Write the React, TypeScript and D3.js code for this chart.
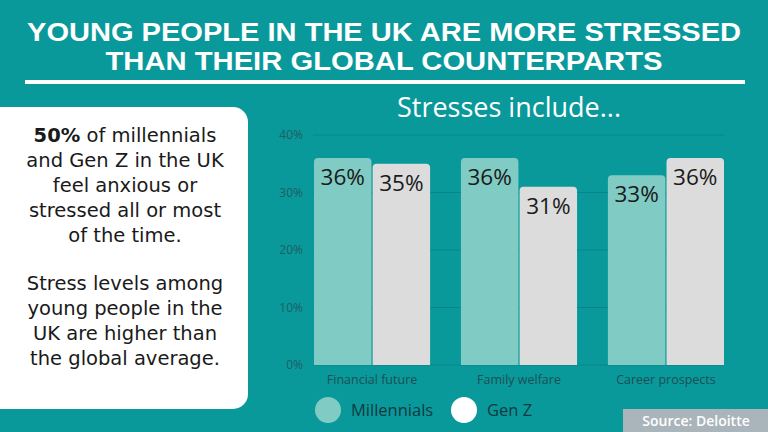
import React, { useEffect } from 'react';
import * as d3 from 'd3';

const categories = ['Financial future', 'Family welfare', 'Career prospects'];
const seriesNames = ['Millennials', 'Gen Z'];
const millennials = [36, 36, 33];
const genZ = [35, 31, 36];
const yTicks = [0, 10, 20, 30, 40];
const titleLines = ['YOUNG PEOPLE IN THE UK ARE MORE STRESSED', 'THAN THEIR GLOBAL COUNTERPARTS'];
const noteLines1 = ['of millennials', 'and Gen Z in the UK', 'feel anxious or', 'stressed all or most', 'of the time.'];
const noteLines2 = ['Stress levels among', 'young people in the', 'UK are higher than', 'the global average.'];

const W = 768;
const H = 432;
const TEAL = '#0a999b';
const colors = ['#80cbc3', '#dcdcdc'];

const App: React.FC = () => {
  useEffect(() => {
    document.body.style.margin = '0';
  }, []);

  const x0 = d3.scaleBand<string>().domain(categories).range([314, 724]).paddingInner(0.21).paddingOuter(0);
  const x1 = d3.scaleBand<string>().domain(seriesNames).range([0, x0.bandwidth()]).paddingInner(0.02);
  const y = d3.scaleLinear().domain([0, 40]).range([365, 135]);

  const rows = categories.map((c, i) => ({ c, vals: [millennials[i], genZ[i]] }));

  // bar with rounded top corners only
  const barPath = (x: number, top: number, w: number, bottom: number, r: number) => {
    const p = d3.path();
    p.moveTo(x, bottom);
    p.lineTo(x, top + r);
    p.quadraticCurveTo(x, top, x + r, top);
    p.lineTo(x + w - r, top);
    p.quadraticCurveTo(x + w, top, x + w, top + r);
    p.lineTo(x + w, bottom);
    p.closePath();
    return p.toString();
  };

  const bodyFont = '"DejaVu Sans", sans-serif';

  return (
    <svg width={W} height={H} style={{ display: 'block', position: 'absolute', left: 0, top: 0 }}>
      <rect width={W} height={H} fill={TEAL} />

      {/* title */}
      {titleLines.map((t, i) => (
        <text key={t} x={W / 2} y={41 + i * 29} textAnchor="middle" fill="#fff"
          fontFamily='"Liberation Sans", Arial, sans-serif' fontWeight={700} fontSize={25}
          textLength={i === 0 ? 714 : 557} lengthAdjust="spacingAndGlyphs">{t}</text>
      ))}
      <rect x={25} y={80} width={720} height={4} fill="#fff" />

      <text x={509} y={117} textAnchor="middle" fill="#fff" fontFamily='"Open Sans", sans-serif'
        fontWeight={400} fontSize={27}>Stresses include...</text>

      {/* left note box */}
      <rect x={-20} y={107} width={268} height={302} rx={15} fill="#fff" />
      <g fontFamily={bodyFont} fontSize={19.5} fill="#1a1a1a" textAnchor="middle">
        {noteLines1.map((t, i) => (
          <text key={t} x={125} y={142 + i * 25}>
            {i === 0 ? (<><tspan fontWeight={700}>50%</tspan> {t}</>) : t}
          </text>
        ))}
        {noteLines2.map((t, i) => (
          <text key={t} x={125} y={290 + i * 25}>{t}</text>
        ))}
      </g>

      {/* grid + y axis */}
      {yTicks.map(t => (
        <g key={t}>
          <line x1={313} x2={724} y1={y(t)} y2={y(t)} stroke="#07868a" strokeWidth={1} />
          <text x={303} y={y(t) + 4} textAnchor="end" fill="#1f5d63" fontSize={12}
            fontFamily='"Open Sans", sans-serif'>{t}%</text>
        </g>
      ))}

      {/* bars */}
      {rows.map(r => (
        <g key={r.c} transform={`translate(${x0(r.c)},0)`}>
          {r.vals.map((v, j) => {
            const bx = x1(seriesNames[j]) as number;
            const bw = x1.bandwidth();
            return (
              <g key={j}>
                <path d={barPath(bx, y(v), bw, y(0), 4)} fill={colors[j]} />
                <text x={bx + bw / 2} y={y(v) + 27} textAnchor="middle" fill="#1a1a1a"
                  fontFamily='"Open Sans", sans-serif' fontSize={22.5}>{v}%</text>
              </g>
            );
          })}
          <text x={x0.bandwidth() / 2} y={384} textAnchor="middle" fill="#1d4f56" fontSize={12.5}
            fontFamily='"Open Sans", sans-serif'>{r.c}</text>
        </g>
      ))}

      {/* legend */}
      {seriesNames.map((s, i) => (
        <g key={s} transform={`translate(${328 + i * 136},410)`}>
          <circle r={13} fill={i === 0 ? colors[0] : '#fff'} />
          <text x={23} y={6} fill="#0f3a40" fontSize={16.5} fontFamily='"Open Sans", sans-serif'>{s}</text>
        </g>
      ))}

      {/* source */}
      <rect x={623} y={409} width={145} height={23} fill="#a9b4bb" />
      <text x={696} y={426} textAnchor="middle" fill="#fff" fontSize={14} fontWeight={600}
        fontFamily='"Open Sans", sans-serif'>Source: Deloitte</text>
    </svg>
  );
};

export default App;
